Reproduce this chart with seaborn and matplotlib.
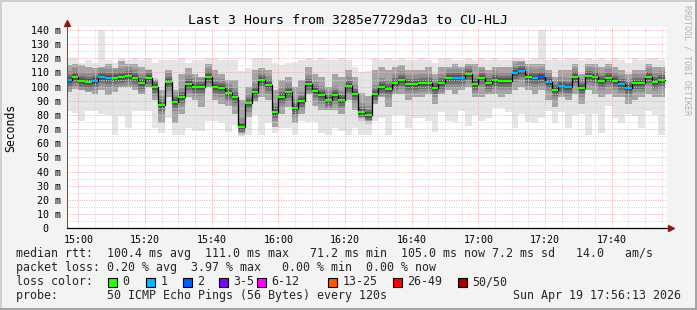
import numpy as np
import pandas as pd
import matplotlib
matplotlib.use("Agg")
import matplotlib.pyplot as plt
import seaborn as sns
from matplotlib.ticker import MultipleLocator, FixedLocator
from matplotlib.patches import Rectangle
from matplotlib.transforms import offset_copy

# ---------------- data ----------------
step_minutes = 2          # probe interval (120 s)
first_step = -4           # minutes relative to 15:00 of first (partial) step

median_ms = [104.7, 106.8, 104.2, 103.0, 104.2, 106.8, 106.0, 106.0, 106.8, 107.5,
             106.0, 102.8, 106.0, 99.5, 87.0, 103.5, 89.0, 92.8, 101.8, 99.8,
             99.8, 106.8, 99.8, 99.0, 95.8, 92.8, 71.2, 88.5, 96.2, 104.7,
             101.3, 82.0, 92.8, 96.2, 85.0, 89.9, 101.9, 97.0, 94.3, 90.5,
             94.3, 90.7, 100.5, 94.8, 82.0, 80.2, 94.8, 99.7, 98.4, 102.8,
             104.7, 101.8, 101.8, 102.8, 102.8, 99.0, 102.8, 106.3, 106.3, 106.3,
             108.9, 101.9, 106.2, 102.8, 104.7, 104.1, 104.1, 109.8, 111.0, 107.1,
             106.0, 107.1, 103.5, 97.8, 100.6, 99.9, 106.8, 99.2, 107.7, 106.9,
             104.2, 106.3, 104.2, 101.9, 99.2, 102.7, 102.7, 106.9, 103.3, 105.0]

lost_pings = [1, 0, 0, 0, 1, 1, 1, 0, 0, 0,
              0, 0, 0, 0, 0, 0, 0, 0, 0, 0,
              0, 0, 0, 0, 0, 0, 0, 0, 0, 0,
              0, 0, 0, 0, 0, 0, 0, 0, 0, 0,
              0, 0, 0, 0, 0, 0, 0, 0, 0, 0,
              0, 0, 0, 0, 0, 0, 0, 0, 1, 1,
              0, 0, 0, 0, 0, 0, 0, 1, 1, 0,
              1, 2, 1, 0, 1, 1, 0, 0, 0, 0,
              0, 0, 0, 1, 1, 0, 0, 0, 0, 0]

smoke_hi = [120.5, 120.5, 117, 119, 117, 140, 119, 116.5, 120.5, 119,
            120.5, 119, 120.5, 117, 119, 119, 119, 120.5, 116.5, 119,
            119, 120.5, 120.5, 119, 119, 119, 111, 113, 120.5, 120.5,
            120.5, 116.5, 115.5, 116.5, 117.5, 119, 120.5, 119, 120.5, 119,
            119, 120.5, 119, 114, 110, 111, 120.5, 119, 120.5, 119,
            120.5, 119, 119, 120.5, 119, 116.5, 120.5, 120.5, 119, 119,
            120.5, 119, 120.5, 119, 120.5, 119, 119, 120.5, 120.5, 119,
            120.5, 140, 119, 120.5, 119, 120.5, 120.5, 119, 120.5, 119,
            120.5, 119, 120.5, 119, 117, 120.5, 119, 120.5, 120.5, 119]

smoke_lo = [83, 81.5, 75.6, 82.7, 83, 81, 80, 66, 79, 71,
            83, 83, 83, 70.5, 67, 78, 66, 66, 71, 69,
            69, 76, 76, 74, 68, 72.7, 66, 66, 80, 66,
            74, 67, 70.5, 70.5, 66, 76, 75, 75, 67, 66,
            70.5, 69, 66, 70.5, 66, 66, 76, 78, 66, 80,
            80, 71, 78, 78, 76, 68, 82, 76, 75, 83,
            72, 80, 76, 78, 85, 85, 82, 70.5, 81, 75,
            74, 78, 83, 74, 82, 71, 80, 81, 66, 81,
            67, 86, 78, 74, 81, 79, 70.5, 83, 80, 66]

smoke_q3 = [115, 116, 115, 114, 113, 114, 116, 113, 118, 116,
            116, 114, 112, 104.7, 97.6, 111.7, 97.6, 109, 113, 109,
            106.8, 116, 111.7, 109, 104.7, 104.7, 90.5, 100, 111.7, 113,
            111.7, 97.6, 104.7, 106.8, 100, 104.7, 114, 109, 106.8, 100,
            109, 106.8, 111.7, 106.8, 95.5, 93.3, 111.7, 114, 111.7, 114,
            115, 111.7, 111.7, 111.7, 114, 109, 114, 114, 116, 114,
            116, 116, 114, 111.7, 114, 114, 114, 118, 118, 116,
            116, 116, 111.7, 106.8, 111.7, 111.7, 116, 109, 116, 116,
            114, 116, 114, 111.7, 109, 111.7, 111.7, 116, 114, 114]

smoke_q1 = [96, 98, 97.6, 96.5, 95, 97.6, 94, 96, 100, 100,
            97.6, 95, 100, 90.5, 74, 92.9, 74, 81, 92.9, 90.5,
            85.9, 100, 90.5, 88, 86, 81, 68, 78.8, 90, 93,
            90.5, 71.8, 81, 85.9, 74, 81, 95, 86, 83.5, 83.5,
            83.5, 81, 90.5, 83.5, 78.8, 76.4, 88, 93, 85.9, 95,
            95, 90.5, 93, 93, 95, 88, 95, 97.6, 95, 97.6,
            100, 93, 93, 95, 95, 93, 95, 97.6, 100, 97.6,
            95, 97.6, 90.5, 85.9, 93, 90.5, 95, 88, 97.6, 95,
            93, 95, 93, 93, 88, 90.5, 93, 95, 93, 93]

y_ticks = [0, 10, 20, 30, 40, 50, 60, 70, 80, 90, 100, 110, 120, 130, 140]
y_tick_labels = ["0  ", "10 m", "20 m", "30 m", "40 m", "50 m", "60 m", "70 m",
                 "80 m", "90 m", "100 m", "110 m", "120 m", "130 m", "140 m"]
x_tick_minutes = [0, 20, 40, 60, 80, 100, 120, 140, 160]
x_tick_labels = ["15:00", "15:20", "15:40", "16:00", "16:20", "16:40",
                 "17:00", "17:20", "17:40"]

loss_labels = ["0", "1", "2", "3-5", "6-12", "13-25", "26-49", "50/50"]
loss_upper = [0, 1, 2, 5, 12, 25, 49, 50]
loss_colors = ["#26ff00", "#00b8ff", "#0059ff", "#7e00ff", "#ff00ff",
               "#ff5500", "#ff0000", "#a10000"]

title = "Last 3 Hours from 3285e7729da3 to CU-HLJ"
line_rtt = "median rtt:  100.4 ms avg  111.0 ms max   71.2 ms min  105.0 ms now 7.2 ms sd   14.0   am/s"
line_loss = "packet loss: 0.20 % avg  3.97 % max   0.00 % min  0.00 % now"
line_probe = "probe:       50 ICMP Echo Pings (56 Bytes) every 120s"
date_text = "Sun Apr 19 17:56:13 2026"

# ---------------- style ----------------
sns.set_style("white")
plt.rcParams["font.family"] = ["DejaVu Sans Mono"]

W, H = 697, 310
fig = plt.figure(figsize=(W / 100, H / 100), dpi=100)
fig.patch.set_facecolor("#f3f3f3")


def fx(x):
    return x / W


def fy(y):
    return 1 - y / H


ax = fig.add_axes([fx(67), fy(228.3), 600 / W, 201 / H])
ax.set_facecolor("white")

n = len(median_ms)
starts = first_step + step_minutes * np.arange(n)
ends = starts + step_minutes
edges = np.append(starts, ends[-1])


def ext(a):
    a = list(a)
    return np.array(a + [a[-1]], dtype=float)


# smoke
ax.fill_between(edges, ext(smoke_lo), ext(smoke_hi), step="post",
                color="#000000", alpha=0.10, linewidth=0, zorder=1)
ax.fill_between(edges, ext(smoke_q1), ext(smoke_q3), step="post",
                color="#000000", alpha=0.28, linewidth=0, zorder=1.1)
ax.hlines(median_ms, starts, ends, colors="#000000", alpha=0.12,
          linewidth=13, capstyle="butt", zorder=1.15)
ax.hlines(median_ms, starts, ends, colors="#000000", alpha=0.22,
          linewidth=8, capstyle="butt", zorder=1.2)
ax.hlines(median_ms, starts, ends, colors="#000000", alpha=0.3,
          linewidth=4, capstyle="butt", zorder=1.3)

# median step line
df = pd.DataFrame({"t": edges, "ms": ext(median_ms)})
sns.lineplot(data=df, x="t", y="ms", ax=ax, drawstyle="steps-post",
             estimator=None, sort=False, color="black", linewidth=0.9,
             zorder=3)


def loss_color(k):
    for up, c in zip(loss_upper, loss_colors):
        if k <= up:
            return c
    return loss_colors[-1]


ax.hlines(median_ms, starts, ends, colors=[loss_color(k) for k in lost_pings],
          linewidth=1.6, capstyle="butt", zorder=4)

# axes limits / ticks
ax.set_xlim(-3.39, 176.61)
ax.set_ylim(0, 141.85)
ax.set_xlabel("")
ax.set_ylabel("")
ax.xaxis.set_major_locator(FixedLocator(x_tick_minutes))
ax.set_xticklabels(x_tick_labels)
ax.xaxis.set_minor_locator(MultipleLocator(5))
ax.yaxis.set_major_locator(FixedLocator(y_ticks))
ax.set_yticklabels(y_tick_labels)
ax.yaxis.set_minor_locator(MultipleLocator(5))

ax.set_axisbelow(False)
ax.grid(which="minor", color="#d6d6d6", linestyle=(0, (1, 1.4)), linewidth=0.72, zorder=2)
ax.grid(which="major", color="#f3aaaa", linestyle=(0, (1, 1.4)), linewidth=0.72, zorder=2.1)

ax.tick_params(axis="x", which="major", length=2.4, width=0.72, color="#333333",
               pad=2.2, labelsize=7.2, labelcolor="#000000")
ax.tick_params(axis="x", which="minor", length=1.5, width=0.72, color="#333333")
ax.tick_params(axis="y", which="major", length=2.2, width=0.72, color="#555555",
               pad=2.0, labelsize=7.2, labelcolor="#000000")
ax.tick_params(axis="y", which="minor", length=0)

for s in ["top", "right"]:
    ax.spines[s].set_visible(False)
ax.spines["left"].set_color("#555555")
ax.spines["left"].set_linewidth(0.72)
ax.spines["bottom"].set_color("#000000")
ax.spines["bottom"].set_linewidth(0.9)
ax.spines["left"].set_zorder(5)
ax.spines["bottom"].set_zorder(5)

# axis arrows
up_tr = offset_copy(ax.transAxes, fig=fig, x=0, y=3.0, units="points")
ax.plot([0], [1], marker="^", markersize=4, color="#8b1a1a", transform=up_tr,
        clip_on=False, zorder=6)
rt_tr = offset_copy(ax.transAxes, fig=fig, x=3.0, y=0, units="points")
ax.plot([1], [0], marker=">", markersize=4, color="#8b1a1a", transform=rt_tr,
        clip_on=False, zorder=6)

# title, y label, watermark
fig.text(fx(347.5), fy(24), title, ha="center", va="baseline", fontsize=9.5,
         color="#000000")
fig.text(fx(10.5), fy(128), "Seconds", rotation=90, ha="center", va="center",
         fontsize=8.3, color="#000000")
fig.text(fx(687.5), fy(60), "RRDTOOL / TOBI OETIKER", rotation=270,
         ha="center", va="center", fontsize=6, color="#b3b3b3")

# legend lines
LFS = 8.4
fig.text(fx(15.5), fy(257.4), line_rtt, ha="left", va="baseline", fontsize=LFS)
fig.text(fx(15.5), fy(271.4), line_loss, ha="left", va="baseline", fontsize=LFS)
fig.text(fx(15.5), fy(285.4), "loss color:", ha="left", va="baseline", fontsize=LFS)
fig.text(fx(15.5), fy(299.4), line_probe, ha="left", va="baseline", fontsize=LFS)
fig.text(fx(681), fy(299.4), date_text, ha="right", va="baseline", fontsize=LFS)

box_x = [108, 146, 183, 219, 257, 328, 393, 458]
for bx, lab, col in zip(box_x, loss_labels, loss_colors):
    fig.patches.append(Rectangle((fx(bx), fy(286.6)), 8.5 / W, 8.5 / H,
                                 transform=fig.transFigure, facecolor=col,
                                 edgecolor="#000000", linewidth=0.8))
    fig.text(fx(bx + 14.5), fy(285.4), lab, ha="left", va="baseline", fontsize=LFS)

# frame
fig.patches.append(Rectangle((0, 1 - 2 / H), 1, 2 / H, transform=fig.transFigure,
                             facecolor="#cfcfcf", edgecolor="none"))
fig.patches.append(Rectangle((0, 0), 2 / W, 1, transform=fig.transFigure,
                             facecolor="#cfcfcf", edgecolor="none"))
fig.patches.append(Rectangle((0, 0), 1, 2.5 / H, transform=fig.transFigure,
                             facecolor="#a3a3a3", edgecolor="none"))
fig.patches.append(Rectangle((1 - 2 / W, 0), 2 / W, 1, transform=fig.transFigure,
                             facecolor="#a3a3a3", edgecolor="none"))

fig.savefig("out.png", dpi=100, facecolor=fig.get_facecolor())
